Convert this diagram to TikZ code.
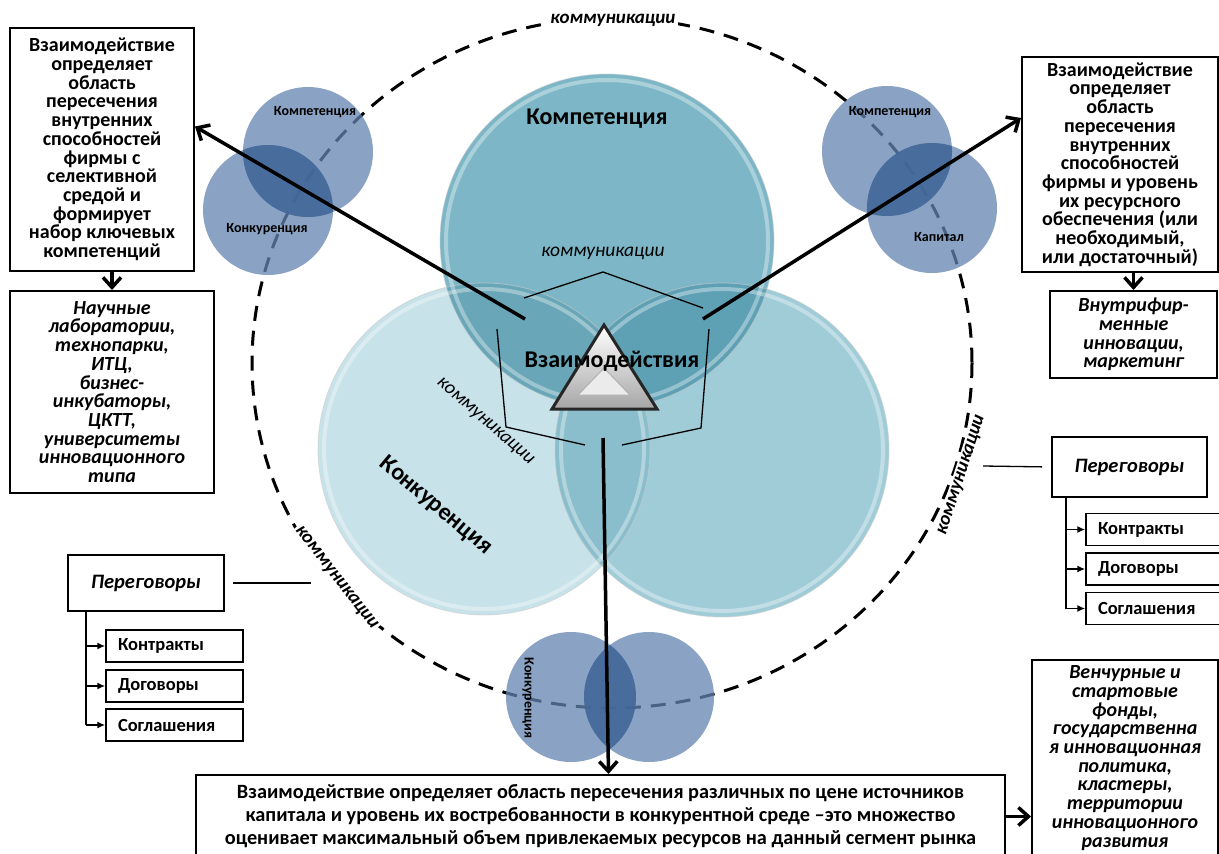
\documentclass[tikz,border=0pt]{standalone}
\usepackage{fontspec}
\setmainfont{Carlito}
\usetikzlibrary{arrows.meta,positioning}

\definecolor{vennL}{RGB}{200,226,234}
\definecolor{vennR}{RGB}{160,204,216}
\definecolor{vennLR}{RGB}{138,190,204}
\definecolor{vennT}{RGB}{125,183,199}
\definecolor{vennTL}{RGB}{104,166,184}
\definecolor{vennTR}{RGB}{94,160,180}
\definecolor{pairC}{RGB}{99,131,176}
\definecolor{pairOv}{RGB}{50,90,142}

\begin{document}
\begin{tikzpicture}[x=1pt,y=-1pt,
  box/.style={draw,line width=2pt,fill=white,align=center,inner sep=0pt,
    font=\fontsize{20}{18.7}\selectfont\bfseries},
  ibox/.style={box,font=\fontsize{20}{18.7}\selectfont\bfseries\itshape},
  negbox/.style={draw,line width=2pt,fill=white,inner sep=0pt,
    font=\fontsize{20.5}{22}\selectfont\bfseries\itshape},
  subbox/.style={draw,line width=1.5pt,fill=white,minimum height=32pt,
    text width=113pt,inner xsep=12pt,align=left,
    font=\fontsize{18.5}{20}\selectfont\bfseries},
  bigarrow/.style={line width=3.5pt,-{Straight Barb[length=10pt,width=18pt]}},
  treearrow/.style={line width=1.5pt,-{Latex[length=8pt,width=7pt]}},
  vennlabel/.style={font=\fontsize{24}{28}\selectfont\bfseries},
  comm/.style={font=\fontsize{19.5}{22}\selectfont\itshape},
  outerlabel/.style={fill=white,inner sep=2pt,font=\fontsize{19}{22}\selectfont\bfseries\itshape},
  pairlabel/.style={font=\fontsize{14}{15}\selectfont\bfseries},
  dashring/.style={line width=3pt,dash pattern=on 15pt off 10pt},
  rim/.style={white,opacity=0.35,line width=4pt},
  edge/.style={white!60!gray,opacity=0.6,line width=0.8pt},
  bracket/.style={line width=1.3pt},
  pair/.style={fill=pairC,fill opacity=0.75},
  pairov/.style={fill=pairOv,fill opacity=0.6}]
\useasboundingbox (0,0) rectangle (1219,854);

% outer ring
\draw[dashring] (612,363) ellipse [x radius=360, y radius=345];

% three big circles
\coordinate (komp) at (607,241);
\coordinate (konk) at (484,449);
\coordinate (rsrc) at (722,450);
\fill[vennL] (konk) circle[radius=166];
\fill[vennR] (rsrc) circle[radius=167];
\begin{scope}
  \clip (konk) circle[radius=166];
  \fill[vennLR] (rsrc) circle[radius=167];
\end{scope}
\fill[vennT] (komp) circle[radius=167];
\begin{scope}
  \clip (komp) circle[radius=167];
  \fill[vennTL] (konk) circle[radius=166];
  \fill[vennTR] (rsrc) circle[radius=167];
\end{scope}
\foreach \c/\r in {konk/166,rsrc/167,komp/167}{
  \draw[rim] (\c) circle[radius=\r-6];
  \draw[edge] (\c) circle[radius=\r];
}

% brackets
\draw[bracket] (524,298) -- (603,272) -- (703,308);
\draw[bracket] (497,329) -- (506,427) -- (585,445);
\draw[bracket] (709,329) -- (701,428) -- (622,445);

% triangle
\coordinate (tA) at (604,325);
\coordinate (tB) at (552,409);
\coordinate (tC) at (657,409);
\shade[top color=white,bottom color=black!35] (tA) -- (tC) -- (tB) -- cycle;
\draw[line width=3pt,line join=miter,black!85] (tA) -- (tC) -- (tB) -- cycle;
\fill[black!8,draw=black!30,line width=1pt] (604,368) -- (630,395) -- (578,395) -- cycle;

\node[vennlabel] (lkomp) at (597,119) {Компетенция};
\node[vennlabel,rotate=-40] (lkonk) at (436,506) {Конкуренция};
\node[vennlabel] (lvz) at (612,361) {Взаимодействия};
\node[comm] (comm1) at (603,253) {коммуникации};
\node[comm,rotate=-41] (comm2) at (485,422) {коммуникации};

% small pairs
\foreach \ax/\ay/\bx/\by in {308/152/268/210,887/151/932/208,571/697/649/697}{
  \fill[pair] (\ax,\ay) circle[radius=65];
  \fill[pair] (\bx,\by) circle[radius=65];
  \begin{scope}
    \clip (\ax,\ay) circle[radius=65];
    \fill[pairov] (\bx,\by) circle[radius=65];
  \end{scope}
}
\node[pairlabel] (p1a) at (315,112) {Компетенция};
\node[pairlabel] (p1b) at (267,229) {Конкуренция};
\node[pairlabel] (p2a) at (890,112) {Компетенция};
\node[pairlabel] (p2b) at (939,237) {Капитал};
\node[pairlabel,rotate=-90] (p3a) at (528,698) {Конкуренция};

% ring labels
\node[outerlabel] (ring1) at (613,20) {коммуникации};
\node[outerlabel,rotate=-52] (ring2) at (336,578) {коммуникации};
\node[outerlabel,rotate=72] (ring3) at (962,475) {коммуникации};

% boxes
\node[box,minimum width=184pt,minimum height=243pt] (tlbox) at (102,149.5)
  {Взаимодействие\\определяет\\область\\пересечения\\внутренних\\способностей\\фирмы с\\селективной\\средой и\\формирует\\набор ключевых\\компетенций};
\node[ibox,minimum width=204pt,minimum height=202pt] (labbox) at (112,392)
  {Научные\\лаборатории,\\технопарки,\\ИТЦ,\\бизнес-\\инкубаторы,\\ЦКТТ,\\университеты\\инновационного\\типа};
\node[box,minimum width=196pt,minimum height=215pt] (trbox) at (1120,164.5)
  {Взаимодействие\\определяет\\область\\пересечения\\внутренних\\способностей\\фирмы и уровень\\их ресурсного\\обеспечения (или\\необходимый,\\или достаточный)};
\node[ibox,minimum width=167pt,minimum height=87pt] (inbox) at (1133.5,334.5)
  {Внутрифир-\\менные\\инновации,\\маркетинг};
\node[box,minimum width=809pt,minimum height=83pt,
  font=\fontsize{20.3}{23}\selectfont\bfseries] (botbox) at (600.5,816.5)
  {Взаимодействие определяет область пересечения различных по цене источников\\капитала и уровень их востребованности в конкурентной среде –это множество\\оценивает максимальный объем привлекаемых ресурсов на данный сегмент рынка};
\node[ibox,minimum width=186pt,minimum height=196pt] (vcbox) at (1125,758)
  {Венчурные и\\стартовые\\фонды,\\государственна\\я инновационная\\политика,\\кластеры,\\территории\\инновационного\\развития};

% negotiations, left
\node[negbox,minimum width=156pt,minimum height=56pt] (negL) at (146,583) {Переговоры};
\node[subbox] (sL1) at (174.5,646) {Контракты};
\node[subbox] (sL2) at (174.5,686) {Договоры};
\node[subbox] (sL3) at (174.5,725) {Соглашения};
\coordinate (tL) at ([xshift=19pt]negL.south west);
\draw[line width=1.5pt] (tL) -- (tL |- sL3.west);
\foreach \s in {sL1,sL2,sL3}
  \draw[treearrow] (tL |- \s.west) -- (\s.west);
\coordinate (cL) at (311,583);
\draw[line width=1.3pt,shorten <=8pt] (negL.east) -- (cL);

% negotiations, right
\node[negbox,minimum width=155pt,minimum height=60pt] (negR) at (1129.5,467) {Переговоры};
\node[subbox] (sR1) at (1154.5,529.5) {Контракты};
\node[subbox] (sR2) at (1154.5,569) {Договоры};
\node[subbox] (sR3) at (1154.5,608.5) {Соглашения};
\coordinate (tR) at ([xshift=15pt]negR.south west);
\draw[line width=1.5pt] (tR) -- (tR |- sR3.west);
\foreach \s in {sR1,sR2,sR3}
  \draw[treearrow] (tR |- \s.west) -- (\s.west);
\coordinate (cR) at (983,466);
\draw[line width=1.3pt,shorten >=9pt] (cR) -- (negR.west);

% big arrows
\coordinate (sL) at (525,319);
\coordinate (sR) at (703,319);
\coordinate (sB) at (603,438);
\draw[bigarrow] (sL) -- ([yshift=23pt]tlbox.east);
\draw[bigarrow] (sR) -- ([yshift=46.5pt]trbox.west);
\draw[bigarrow] (sB) -- ([xshift=8pt]botbox.north);
\draw[bigarrow] (tlbox.south -| labbox.north) -- (labbox.north);
\draw[bigarrow] (trbox.south -| inbox.north) -- (inbox.north);
\draw[bigarrow] (botbox.east) -- (botbox.east -| vcbox.west);
\end{tikzpicture}
\end{document}
